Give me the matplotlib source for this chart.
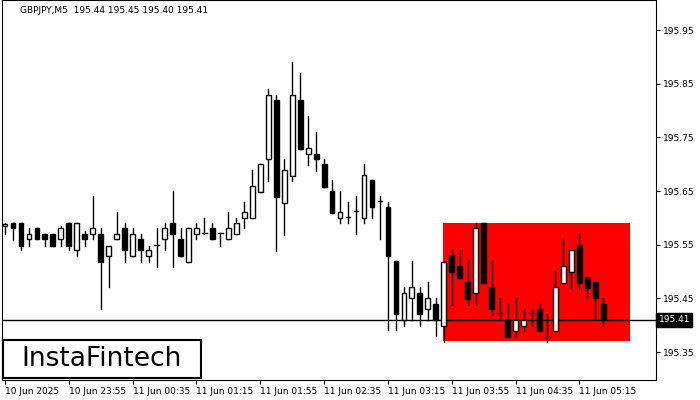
import matplotlib
matplotlib.use("Agg")
import matplotlib.pyplot as plt
from matplotlib.patches import Rectangle

opens = [195.585,195.590,195.590,195.561,195.581,195.570,195.570,195.561,195.590,195.540,
         195.570,195.570,195.570,195.529,195.561,195.581,195.529,195.561,195.529,195.548,
         195.561,195.590,195.561,195.518,195.570,195.570,195.581,195.570,195.561,195.570,
         195.600,195.600,195.648,195.710,195.820,195.628,195.678,195.820,195.719,195.719,
         195.700,195.650,195.600,195.600,195.611,195.600,195.670,195.630,195.620,195.520,
         195.410,195.451,195.460,195.430,195.439,195.398,195.531,195.510,195.480,195.460,
         195.590,195.471,195.421,195.410,195.389,195.398,195.421,195.430,195.378,195.389,
         195.479,195.499,195.550,195.490,195.480,195.439]
highs = [195.590,195.590,195.590,195.581,195.581,195.570,195.570,195.585,195.590,195.590,
         195.576,195.641,195.581,195.548,195.611,195.590,195.581,195.570,195.548,195.581,
         195.590,195.650,195.581,195.581,195.590,195.600,195.590,195.571,195.611,195.600,
         195.630,195.689,195.700,195.840,195.829,195.710,195.890,195.870,195.790,195.760,
         195.710,195.670,195.650,195.630,195.641,195.700,195.670,195.641,195.630,195.520,
         195.471,195.520,195.471,195.480,195.451,195.518,195.540,195.540,195.520,195.590,
         195.590,195.520,195.451,195.439,195.451,195.430,195.430,195.439,195.421,195.501,
         195.561,195.540,195.570,195.490,195.480,195.451]
lows = [195.570,195.559,195.540,195.548,195.561,195.548,195.548,195.548,195.540,195.529,
        195.548,195.561,195.430,195.471,195.561,195.518,195.529,195.518,195.518,195.508,
        195.540,195.508,195.529,195.518,195.561,195.570,195.561,195.548,195.561,195.570,
        195.581,195.600,195.648,195.669,195.538,195.568,195.669,195.728,195.699,195.687,
        195.657,195.609,195.590,195.590,195.570,195.590,195.600,195.561,195.391,195.391,
        195.398,195.410,195.398,195.410,195.380,195.369,195.438,195.488,195.438,195.438,
        195.479,195.419,195.410,195.378,195.378,195.389,195.398,195.389,195.369,195.389,
        195.479,195.469,195.469,195.451,195.410,195.398]
closes = [195.589,195.581,195.548,195.570,195.561,195.561,195.548,195.581,195.548,195.590,
          195.561,195.581,195.518,195.548,195.570,195.540,195.570,195.540,195.540,195.549,
          195.581,195.570,195.529,195.581,195.581,195.571,195.561,195.571,195.581,195.590,
          195.611,195.659,195.700,195.829,195.639,195.689,195.829,195.728,195.730,195.710,
          195.657,195.609,195.611,195.601,195.612,195.680,195.620,195.631,195.529,195.421,
          195.460,195.471,195.421,195.451,195.410,195.518,195.499,195.488,195.449,195.581,
          195.479,195.430,195.422,195.378,195.410,195.410,195.422,195.389,195.379,195.471,
          195.510,195.540,195.479,195.469,195.451,195.410]
tick_idx = [0, 8, 16, 24, 32, 40, 48, 56, 64, 72]
tick_labels = ["10 Jun 2025", "10 Jun 23:55", "11 Jun 00:35", "11 Jun 01:15", "11 Jun 01:55",
               "11 Jun 02:35", "11 Jun 03:15", "11 Jun 03:55", "11 Jun 04:35", "11 Jun 05:15"]
price_ticks = [195.35, 195.45, 195.55, 195.65, 195.75, 195.85, 195.95]
last_price = 195.41
zone_top, zone_bottom = 195.590, 195.371
zone_start, zone_end = 54.9, 78.4

fig = plt.figure(figsize=(7, 4), dpi=100)
ax = fig.add_axes([2/700, 20/400, 654/700, 380/400])
ax.set_xlim(-0.375, 81.6)
ax.set_ylim(195.298, 196.006)

ax.add_patch(Rectangle((zone_start, zone_bottom), zone_end - zone_start, zone_top - zone_bottom,
                       facecolor="#ff0000", edgecolor="none", zorder=1))
ax.axhline(last_price, color="black", lw=1, zorder=2)

w = 0.6
for i, (o, h, l, c) in enumerate(zip(opens, highs, lows, closes)):
    ax.plot([i, i], [l, h], color="black", lw=1, zorder=3)
    bot, top = min(o, c), max(o, c)
    if abs(c - o) < 0.002:
        ax.plot([i - w/2, i + w/2], [c, c], color="black", lw=1, zorder=4)
    else:
        ax.add_patch(Rectangle((i - w/2, bot), w, top - bot,
                               facecolor="white" if c > o else "black",
                               edgecolor="black", lw=1, zorder=4))

ax.yaxis.tick_right()
ax.set_yticks(price_ticks)
ax.set_yticklabels([f"{p:.2f}" for p in price_ticks], fontsize=6.5)
ax.set_xticks(tick_idx)
ax.set_xticklabels(tick_labels, fontsize=6.5, ha="left")
ax.tick_params(axis="both", length=3, width=0.8, pad=2)
for s in ax.spines.values():
    s.set_linewidth(0.8)

ax.text(last_price and 1.004, last_price, f"{last_price:.2f}", transform=ax.get_yaxis_transform(),
        fontsize=6.5, color="white", va="center", ha="left", zorder=10,
        bbox=dict(boxstyle="square,pad=0.25", facecolor="black", edgecolor="black"))

ax.text(0.027, 0.985, "GBPJPY,M5  195.44 195.45 195.40 195.41", transform=ax.transAxes,
        fontsize=6.5, va="top", ha="left")

fig.patches.append(Rectangle((3/700, 22/400), 198/700, 38/400, transform=fig.transFigure,
                             facecolor="white", edgecolor="black", lw=1.5, zorder=20))
fig.text(102/700, 41/400, "InstaFintech", fontsize=19, ha="center", va="center", zorder=21)

fig.savefig("out.png", dpi=100)
